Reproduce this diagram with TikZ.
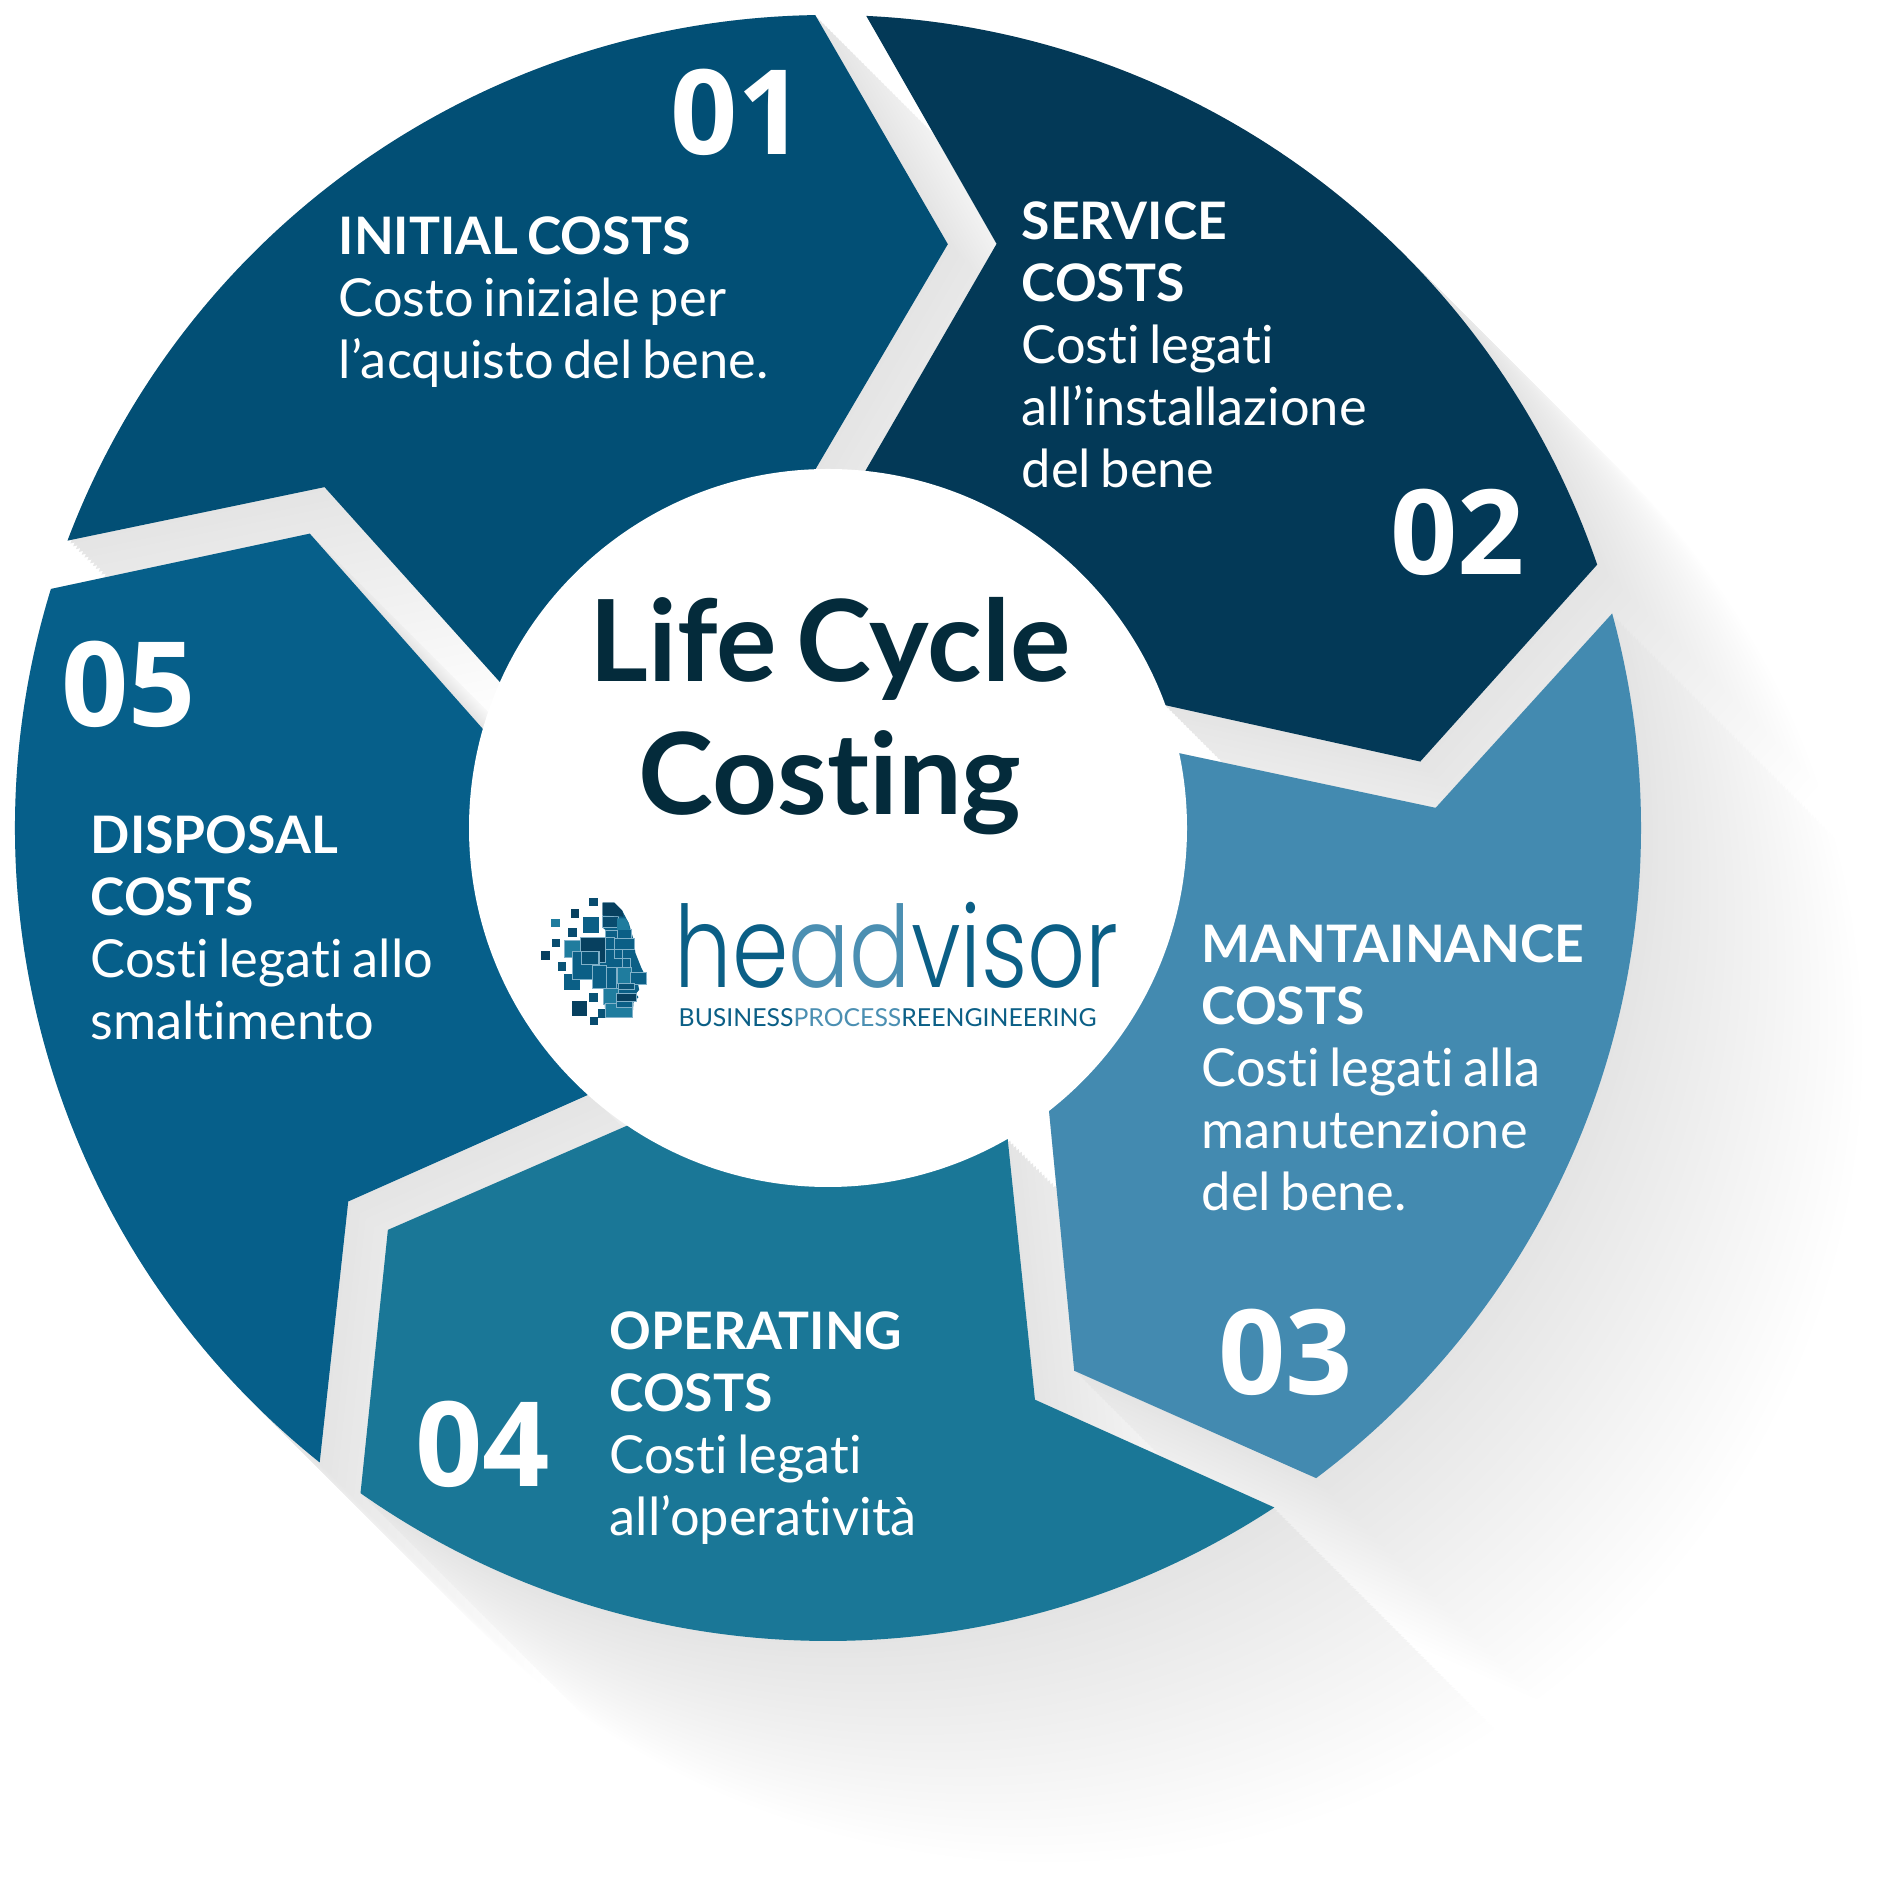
\documentclass[tikz,border=0pt]{standalone}
\usepackage{fontspec}
\setmainfont{Lato}[Ligatures=NoCommon,WordSpace=0.72]
\newfontfamily\numfont{Open Sans}
\newfontfamily\logofont{Poppins Light}
\usetikzlibrary{calc,positioning}
\definecolor{segA}{HTML}{024F75}
\definecolor{segB}{HTML}{033957}
\definecolor{segC}{HTML}{438AB0}
\definecolor{segD}{HTML}{1A7797}
\definecolor{segE}{HTML}{065F8A}
\definecolor{ink}{HTML}{042B3B}
\definecolor{logoA}{HTML}{0B5F86}
\definecolor{logoB}{HTML}{4B8FB2}
\definecolor{logoC}{HTML}{07405F}
\definecolor{logoD}{HTML}{1F7C9E}
\newcommand{\segshape}{(90.9:813) -- (78.4:596) -- (92.1:358) arc[start angle=92.1,end angle=156.1,radius=358] -- (145.9:608) -- (159.3:813) arc[start angle=159.3,end angle=90.9,radius=813] -- cycle}
\newcommand{\hdg}[1]{{\bfseries\fontsize{14.7}{17.65}\selectfont #1}}
\tikzset{%
  txt/.style={anchor=north west,inner sep=0pt,align=left,text=white,font=\fontsize{14.9}{17.65}\selectfont},
  num/.style={anchor=base west,inner sep=0pt,text=white,font=\numfont\bfseries\fontsize{33.5}{33.5}\selectfont},
  title/.style={inner sep=0pt,text=ink,align=center,font=\bfseries\fontsize{32.2}{37.7}\selectfont},
  tile/.style={draw=logoB!70,line width=0.3pt},
}
\begin{document}
\begin{tikzpicture}[x=0.01cm,y=0.01cm]
	\useasboundingbox (-828,-1055) rectangle (1055,828);
	% long shadow
	\foreach \d in {320,316,...,0}{
		\pgfmathsetmacro{\shd}{10.5*(1-\d/320)}
		\foreach \k in {0,...,4}
			\fill[black!\shd,shift={(\d*.7071,-\d*.7071)},rotate=-72*\k] \segshape;
	}
	% segments
	\foreach \k/\c in {0/segA,1/segB,2/segC,3/segD,4/segE}
		\fill[\c,rotate=-72*\k] \segshape;
	\fill[white] (0,0) circle (359);
	% numbers
	\node[num] (n1) at (-158,673) {01};
	\node[num] (n2) at (562,253) {02};
	\node[num] (n3) at (390,-566) {03};
	\node[num] (n4) at (-413,-658) {04};
	\node[num] (n5) at (-767,101) {05};
	% texts
	\node[txt] (t1) at (-490,612) {\hdg{INITIAL COSTS}\\Costo iniziale per\\l’acquisto del bene.};
	\node[txt] (t2) at (193,627) {\hdg{SERVICE}\\\hdg{COSTS}\\Costi legati\\all’installazione\\del bene};
	\node[txt] (t3) at (373,-96) {\hdg{MANTAINANCE}\\\hdg{COSTS}\\Costi legati alla\\manutenzione\\del bene.};
	\node[txt] (t4) at (-219,-483) {\hdg{OPERATING}\\\hdg{COSTS}\\Costi legati\\all’operatività};
	\node[txt] (t5) at (-738,13) {\hdg{DISPOSAL}\\\hdg{COSTS}\\Costi legati allo\\smaltimento};
	% title
	\node[title] (lcc) at (2,112) {Life Cycle\\Costing};
	% logo
	\begin{scope}[shift={(-293,-62)},x=0.003333cm,y=-0.003333cm]
		\fill[logoA] (203,38) -- (238,38) -- (262,62) -- (282,100) -- (295,145) -- (302,190) -- (320,235) -- (337,268) -- (310,285) -- (313,300) -- (303,312) -- (311,322) -- (296,338) -- (293,383) -- (213,383) -- (205,297) -- (173,297) -- (173,270) -- (112,270) -- (112,200) -- (90,200) -- (90,153) -- (137,153) -- (137,143) -- (212,143) -- (213,121) -- (203,113) -- cycle;
		% loose squares
		\foreach \xa/\ya/\xb/\yb/\c in {163/24/188/49/logoC!60!logoA,107/58/133/84/logoC,143/81/191/129/logoA,47/86/75/112/logoD,100/115/127/141/logoC!60!logoA,50/146/76/172/logoC!60!logoA,19/183/46/209/logoC,68/216/93/242/logoC!40!logoA,86/253/134/300/logoA,163/311/188/336/logoC!40!logoA,110/334/157/380/logoC,190/358/215/384/logoC!40!logoA,166/381/190/406/logoC!60!logoA}
			\fill[\c] (\xa,\ya) rectangle (\xb,\yb);
		% tiles of the head
		\foreach \xa/\ya/\xb/\yb/\c in {90/153/140/202/logoD,137/143/212/218/logoC,203/80/250/113/logoC!60!logoA,213/121/247/145/logoA,247/120/290/145/logoA,212/143/238/178/logoA,240/145/298/178/logoA,112/185/195/270/logoA,140/185/190/225/logoC!40!logoA,238/180/262/205/logoA,262/205/288/232/logoA,172/228/215/297/logoA,215/232/245/295/logoA,247/232/290/280/logoD,288/248/334/283/logoA,250/280/300/300/logoC!40!logoA,205/297/250/345/logoD,245/310/305/335/logoC,213/340/293/383/logoD,245/335/293/352/logoA}
			\draw[tile,fill=\c] (\xa,\ya) rectangle (\xb,\yb);
		\fill[logoC] (203,38) -- (238,38) -- (262,62) -- (266,80) -- (203,76) -- cycle;
		\fill[logoD] (247,85) -- (272,85) -- (282,100) -- (285,120) -- (247,120) -- cycle;
	\end{scope}
	\node[anchor=base west,inner sep=0pt,text=logoA,font=\logofont\fontsize{25.8}{26}\selectfont] (hd) at (-154,-160) {\scalebox{1}[1.25]{he\textcolor{logoB}{ad}visor}};
	\node[anchor=base west,inner sep=0pt,text=logoA,font=\fontsize{7.05}{8}\selectfont] (bp) at (-150,-199) {BUSINESS\textcolor{logoB}{PROCESS}REENGINEERING};
\end{tikzpicture}
\end{document}
